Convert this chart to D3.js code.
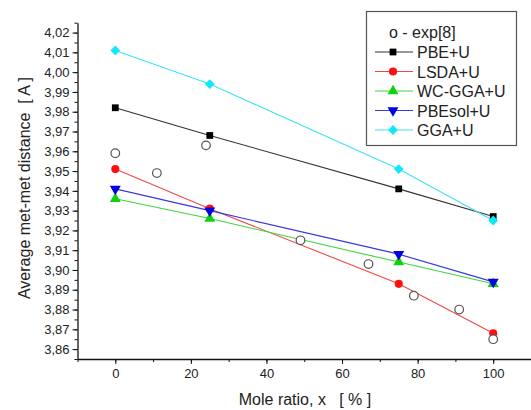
<!DOCTYPE html>
<html>
<head>
<meta charset="utf-8">
<script src="https://cdn.jsdelivr.net/npm/d3@7"></script>
<style>
  html, body { margin: 0; padding: 0; background: #fff; }
  svg { display: block; font-family: "Liberation Sans", Arial, sans-serif; }
</style>
</head>
<body>
<svg id="chart" width="531" height="410"></svg>
<script>
// Mole ratio positions of the calculated points (%)
const calcX = [0, 25, 75, 100];

// Average metal-metal distance (Å) for each functional
const pbeU    = [3.982, 3.968, 3.941, 3.927];
const lsdaU   = [3.951, 3.931, 3.893, 3.868];
const wcGgaU  = [3.936, 3.926, 3.904, 3.893];
const pbesolU = [3.941, 3.930, 3.908, 3.894];
const ggaU    = [4.011, 3.994, 3.951, 3.925];

// Experimental points, exp[8]
const expX = [0, 11, 24, 49, 67, 79, 91, 100];
const expY = [3.959, 3.949, 3.963, 3.915, 3.903, 3.887, 3.880, 3.865];

// Axis ticks
const xTicks = [0, 20, 40, 60, 80, 100];
const yTicks = [3.86, 3.87, 3.88, 3.89, 3.90, 3.91, 3.92, 3.93, 3.94, 3.95, 3.96, 3.97, 3.98, 3.99, 4.00, 4.01, 4.02];

const seriesNames  = ["PBE+U", "LSDA+U", "WC-GGA+U", "PBEsol+U", "GGA+U"];
const seriesValues = [pbeU, lsdaU, wcGgaU, pbesolU, ggaU];
const lineColors   = ["#333333", "#f04848", "#3ad83a", "#3838e0", "#3ee4f0"];
const markerColors = ["#000000", "#ff1010", "#10d010", "#0000e0", "#10e8f8"];
const seriesSymbols = ["square", "circle", "up", "down", "diamond"];

const svg = d3.select("#chart");
const textColor = "#222";

const x = d3.scaleLinear().domain([-10, 110]).range([77.5, 531]);
const y = d3.scaleLinear().domain([3.855, 4.025]).range([359, 22.7]);

const fmtComma = d => d3.format(".2f")(d).replace(".", ",");

// Y axis with minor ticks between the labelled ones
const yMinor = d3.range(3.855, 4.0251, 0.005).map(v => +v.toFixed(3));
svg.append("g")
  .attr("transform", `translate(${x.range()[0]},0)`)
  .call(d3.axisLeft(y).tickValues(yMinor).tickSize(3).tickFormat(""))
  .call(g => g.select(".domain").remove())
  .selectAll("line").attr("stroke", "#111");

const yAxis = svg.append("g")
  .attr("transform", `translate(${x.range()[0]},0)`)
  .call(d3.axisLeft(y).tickValues(yTicks).tickSize(5).tickSizeOuter(0).tickFormat(fmtComma).tickPadding(3));
yAxis.select(".domain").attr("stroke", "#111").attr("stroke-width", 1.3);
yAxis.selectAll("line").attr("stroke", "#111");
yAxis.selectAll("text").attr("font-size", 13).attr("fill", textColor)
  .attr("font-family", "Liberation Sans, Arial, sans-serif");

// X axis with minor ticks every 10 %
svg.append("g")
  .attr("transform", `translate(0,${y.range()[0]})`)
  .call(d3.axisBottom(x).tickValues(d3.range(-10, 111, 10)).tickSize(3).tickFormat(""))
  .call(g => g.select(".domain").remove())
  .selectAll("line").attr("stroke", "#111");

const xAxis = svg.append("g")
  .attr("transform", `translate(0,${y.range()[0]})`)
  .call(d3.axisBottom(x).tickValues(xTicks).tickSize(5).tickSizeOuter(0).tickPadding(5));
xAxis.select(".domain").attr("stroke", "#111").attr("stroke-width", 1.3);
xAxis.selectAll("line").attr("stroke", "#111");
xAxis.selectAll("text").attr("font-size", 13).attr("fill", textColor)
  .attr("font-family", "Liberation Sans, Arial, sans-serif");

// Axis titles
svg.append("text")
  .attr("x", 305).attr("y", 405)
  .attr("text-anchor", "middle")
  .attr("font-size", 16).attr("fill", textColor)
  .attr("xml:space", "preserve")
  .text("Mole ratio, x   [ % ]");

svg.append("text")
  .attr("transform", "translate(30,188) rotate(-90)")
  .attr("text-anchor", "middle")
  .attr("font-size", 16).attr("fill", textColor)
  .attr("xml:space", "preserve")
  .text("Average met-met distance  [ A ]");

// Marker shapes
function drawMarker(sel, kind, color, cx, cy) {
  let d, rot = 0;
  if (kind === "square") d = d3.symbol().type(d3.symbolSquare).size(46)();
  else if (kind === "circle") d = d3.symbol().type(d3.symbolCircle).size(52)();
  else if (kind === "up") d = d3.symbol().type(d3.symbolTriangle).size(52)();
  else if (kind === "down") { d = d3.symbol().type(d3.symbolTriangle).size(52)(); rot = 180; }
  else { d = d3.symbol().type(d3.symbolSquare).size(48)(); rot = 45; }
  sel.append("path")
    .attr("d", d)
    .attr("transform", `translate(${cx},${cy}) rotate(${rot})`)
    .attr("fill", color);
}

// Calculated series: lines then markers
const line = d3.line().x((d, i) => x(calcX[i])).y(d => y(d));
const plot = svg.append("g");
seriesValues.forEach((vals, k) => {
  plot.append("path")
    .datum(vals)
    .attr("d", line)
    .attr("fill", "none")
    .attr("stroke", lineColors[k])
    .attr("stroke-width", 1.1);
});
seriesValues.forEach((vals, k) => {
  vals.forEach((v, i) => drawMarker(plot, seriesSymbols[k], markerColors[k], x(calcX[i]), y(v)));
});

// Experimental points: open circles
plot.selectAll("circle.exp")
  .data(expX)
  .join("circle")
  .attr("class", "exp")
  .attr("cx", d => x(d))
  .attr("cy", (d, i) => y(expY[i]))
  .attr("r", 4.3)
  .attr("fill", "#fff")
  .attr("stroke", "#555")
  .attr("stroke-width", 1.2);

// Legend
const legend = svg.append("g");
legend.append("rect")
  .attr("x", 366.5).attr("y", 11.5)
  .attr("width", 150).attr("height", 134)
  .attr("fill", "#fff").attr("stroke", "#555").attr("stroke-width", 1.2);

legend.append("text")
  .attr("x", 389).attr("y", 37.5)
  .attr("font-size", 16).attr("fill", textColor)
  .text("o - exp[8]");

const legY0 = 52, legDy = 19.5;
seriesNames.forEach((name, k) => {
  const ly = legY0 + k * legDy;
  legend.append("line")
    .attr("x1", 375).attr("x2", 413)
    .attr("y1", ly).attr("y2", ly)
    .attr("stroke", lineColors[k]).attr("stroke-width", 1.1);
  drawMarker(legend, seriesSymbols[k], markerColors[k], 393, ly);
  legend.append("text")
    .attr("x", 417).attr("y", ly + 6)
    .attr("font-size", 16).attr("fill", textColor)
    .text(name);
});
</script>
</body>
</html>
